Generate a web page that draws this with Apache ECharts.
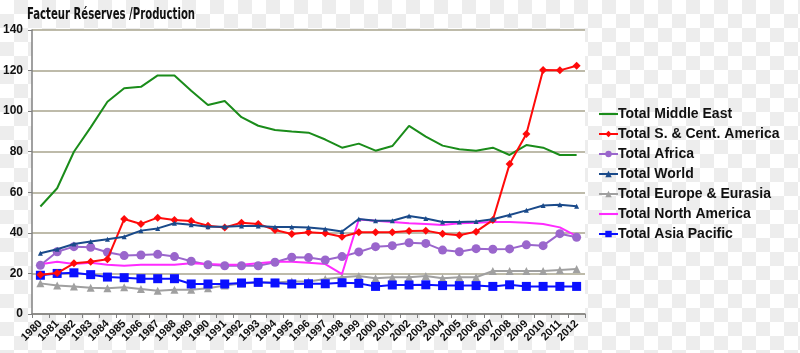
<!DOCTYPE html>
<html>
<head>
<meta charset="utf-8">
<script src="https://cdn.jsdelivr.net/npm/echarts@6/dist/echarts.min.js"></script>
<style>
html,body{margin:0;padding:0;}
body{
  width:800px;height:353px;overflow:hidden;
  background-color:#ffffff;
  background-image:
    linear-gradient(45deg,#ededed 25%,transparent 25%,transparent 75%,#ededed 75%),
    linear-gradient(45deg,#ededed 25%,transparent 25%,transparent 75%,#ededed 75%);
  background-size:28px 28px;
  background-position:0 0,14px 14px;
}
#chart{width:800px;height:353px;}
</style>
</head>
<body>
<div id="chart"></div>
<script>
const years = ['1980','1981','1982','1983','1984','1985','1986','1987','1988','1989','1990','1991','1992','1993','1994','1995','1996','1997','1998','1999','2000','2001','2002','2003','2004','2005','2006','2007','2008','2009','2010','2011','2012'];
const yTicks = [0,20,40,60,80,100,120,140];
const titleText = 'Facteur Réserves /Production';

const middleEast = [53,62,80,92,104.6,111.3,112,117.6,117.6,110,103,105,97,92.8,90.7,90,89.4,86,82,84,80.5,82.8,92.7,87.4,83,81.2,80.5,82,78.4,83.3,82,78.4,78.4];
const sCentAmerica = [19.3,20.2,25,25.8,27,46.8,44.4,47.5,46.3,45.8,43.5,42.7,45,44.4,41.4,39.4,40.3,39.8,38.1,40.3,40.3,40.3,40.9,41.1,39.6,38.8,40.6,46.3,73.9,88.7,120.3,120.1,122.4];
const africa = [24,30.7,33.2,32.9,30.4,28.8,29.1,29.4,28.3,26,24.3,23.8,23.8,23.8,25.5,28,27.8,26.6,28.3,30.6,33.2,33.7,35.1,34.8,31.5,30.7,32.2,31.9,32.1,34.1,33.7,39.6,37.8];
const world = [29.9,31.9,34.5,35.7,36.8,38.1,41.1,42.2,44.7,44,43,43,43.4,43.4,42.9,42.9,42.6,41.9,40.7,46.8,46,46,48.3,47.1,45.4,45.3,45.6,46.7,48.8,51.1,53.5,53.8,53.1];
const europeEurasia = [15.1,14,13.5,13,12.7,13.2,12.3,11.5,12,12,12.7,14,15,15.5,15.5,16,16,17.3,18.1,18.7,17.6,18.1,18.1,18.7,17.6,18.1,18.1,21.2,21.2,21.2,21.2,21.7,22.2];
const northAmerica = [24.5,25.8,24.6,25.3,24.3,23.8,24.3,24.3,24.3,25,24.6,24.3,24.3,25,25.8,25.8,25.3,24.6,19.7,46.6,46,45.4,44.7,44.4,43.9,44.7,45,45.4,45.4,45,44.4,42.7,38.4];
const asiaPacific = [19.1,20,20.3,19.4,18.2,17.9,17.4,17.4,17.4,14.8,14.8,14.8,15.3,15.6,15.3,14.8,14.9,14.9,15.4,15.1,13.6,14.3,14.3,14.4,14,14,14,13.6,14.4,13.6,13.6,13.6,13.6];

const names = ['Total Middle East','Total S. & Cent. America','Total Africa','Total World','Total Europe & Eurasia','Total North America','Total Asia Pacific'];
const plainLineIcon = 'path://M0,0 L20,0 L20,2.2 L0,2.2 Z';

const chart = echarts.init(document.getElementById('chart'), null, {renderer:'canvas'});

function mk(name, data, color, symbol, size, z){
  return {
    name, type:'line', data, z,
    symbol: symbol || 'none',
    showSymbol: !!symbol,
    symbolSize: size || 0,
    lineStyle:{color, width:2},
    itemStyle:{color, borderWidth:0},
    emphasis:{disabled:true},
    animation:false
  };
}

chart.setOption({
  backgroundColor:'transparent',
  animation:false,
  graphic:[{
    type:'text', left:27, top:8, scaleX:0.75, originX:0,
    style:{text:titleText, fontFamily:'DejaVu Sans Condensed, Liberation Sans', fontWeight:'bold', fontSize:15, fill:'#111'}
  }],
  legend:{
    orient:'vertical',
    left:593, top:102,
    itemWidth:19, itemHeight:8, itemGap:6,
    data:[
      {name:names[0], icon:plainLineIcon},
      {name:names[1]},
      {name:names[2]},
      {name:names[3]},
      {name:names[4]},
      {name:names[5], icon:plainLineIcon},
      {name:names[6]}
    ],
    textStyle:{fontFamily:'Liberation Sans', fontWeight:'bold', fontSize:14, color:'#111', padding:[0,0,0,-5]}
  },
  grid:{left:28, right:215, top:30, bottom:39, show:true, backgroundColor:'#ffffff', borderWidth:0, containLabel:false},
  xAxis:{
    type:'category', data:years, boundaryGap:true,
    axisLine:{show:true, lineStyle:{color:'#808080', width:1.5}},
    axisTick:{show:true, alignWithLabel:false, inside:false, length:4, lineStyle:{color:'#808080'}},
    axisLabel:{interval:0, rotate:45, fontFamily:'Liberation Sans', fontWeight:'bold', fontSize:11, color:'#111', margin:8},
    splitLine:{show:false}
  },
  yAxis:{
    type:'value', min:0, max:140, interval:20,
    axisLine:{show:true, lineStyle:{color:'#808080', width:1.5}},
    axisTick:{show:true, length:4, lineStyle:{color:'#808080'}},
    axisLabel:{fontFamily:'Liberation Sans', fontWeight:'bold', fontSize:12, color:'#111', margin:9,
      formatter:v=> yTicks.includes(v) ? String(v) : ''},
    splitLine:{show:true, lineStyle:{color:'#a8a58e', width:1.5}}
  },
  series:[
    mk(names[0], middleEast, '#1a8c1a', null, 0, 3),
    mk(names[1], sCentAmerica, '#ff0a0a', 'diamond', 8, 4),
    mk(names[2], africa, '#9a66cc', 'circle', 9, 3),
    mk(names[3], world, '#1a4a8a', 'triangle', 5, 5),
    mk(names[4], europeEurasia, '#a0a0a0', 'triangle', 8, 2),
    mk(names[5], northAmerica, '#ff2bff', null, 0, 3),
    mk(names[6], asiaPacific, '#0a10ff', 'rect', 9, 3)
  ]
});
</script>
</body>
</html>
